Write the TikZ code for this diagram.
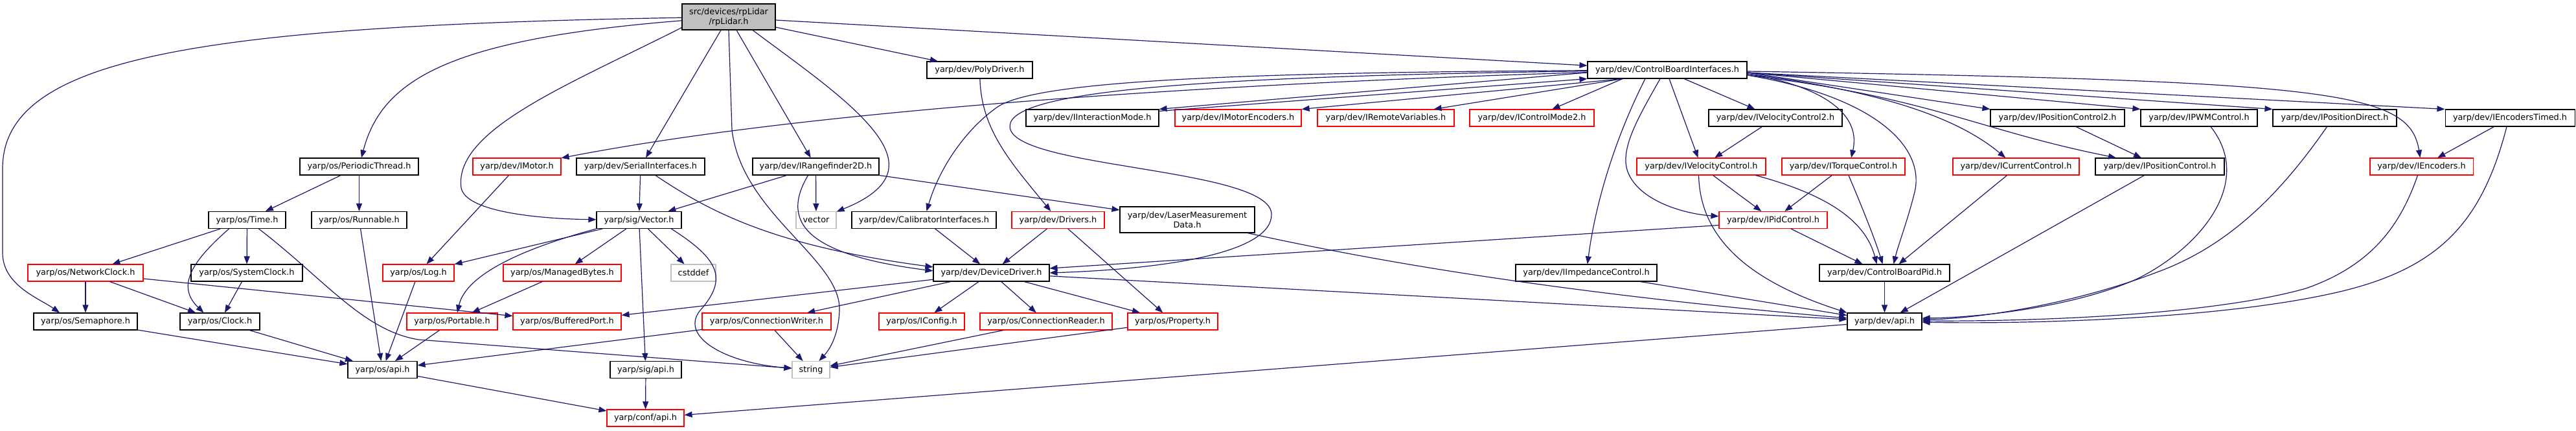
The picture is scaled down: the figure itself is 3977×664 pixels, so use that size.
\documentclass[tikz,border=0pt]{standalone}
\usepackage{fontspec}
\setmainfont{DejaVu Sans}
\usetikzlibrary{arrows.meta}
\definecolor{edgeblue}{HTML}{191970}
\definecolor{greyseventyfive}{HTML}{BFBFBF}
\begin{document}
\begin{tikzpicture}[x=1pt,y=-1pt,
  box/.style={draw=black, fill=white, line width=1.1pt, minimum height=26pt, inner sep=1pt,
    font=\fontsize{12.85}{15}\selectfont, text=black, align=center},
  redbox/.style={box, draw=red},
  sysbox/.style={box, draw=greyseventyfive},
  rootbox/.style={box, fill=greyseventyfive, minimum height=40pt},
  dep/.style={draw=edgeblue, line width=1.2pt, -{Triangle[length=12pt,width=9pt]}}]
\useasboundingbox (0,0) rectangle (3977,664);
% rank 0
\node[rootbox, minimum width=144pt] (rp) at (1125,26) {src/devices/rpLidar\\/rpLidar.h};
% rank 1
\node[box, minimum width=163pt] (poly) at (1512.5,108) {yarp/dev/PolyDriver.h};
\node[box, minimum width=246pt] (cbi) at (2574,108) {yarp/dev/ControlBoardInterfaces.h};
% rank 2
\node[box, minimum width=205pt] (iim) at (1686.5,182) {yarp/dev/IInteractionMode.h};
\node[redbox, minimum width=195pt] (imenc) at (1911.5,182) {yarp/dev/IMotorEncoders.h};
\node[redbox, minimum width=211pt] (irv) at (2139.5,182) {yarp/dev/IRemoteVariables.h};
\node[redbox, minimum width=192pt] (icm) at (2365,182) {yarp/dev/IControlMode2.h};
\node[box, minimum width=206pt] (ivc2) at (2741,182) {yarp/dev/IVelocityControl2.h};
\node[box, minimum width=207pt] (ipc2) at (3176.5,182) {yarp/dev/IPositionControl2.h};
\node[box, minimum width=180pt] (ipwm) at (3395,182) {yarp/dev/IPWMControl.h};
\node[box, minimum width=191pt] (ipd) at (3604.5,182) {yarp/dev/IPositionDirect.h};
\node[box, minimum width=200pt] (ienct) at (3875,182) {yarp/dev/IEncodersTimed.h};
% rank 3
\node[box, minimum width=183pt] (pth) at (554.5,257) {yarp/os/PeriodicThread.h};
\node[redbox, minimum width=136pt] (imot) at (798,257) {yarp/dev/IMotor.h};
\node[box, minimum width=198pt] (ser) at (989,257) {yarp/dev/SerialInterfaces.h};
\node[box, minimum width=195pt] (irf) at (1259.5,257) {yarp/dev/IRangefinder2D.h};
\node[redbox, minimum width=199pt] (ivc) at (2626.5,257) {yarp/dev/IVelocityControl.h};
\node[redbox, minimum width=190pt] (itq) at (2846,257) {yarp/dev/ITorqueControl.h};
\node[redbox, minimum width=195pt] (icc) at (3112.5,257) {yarp/dev/ICurrentControl.h};
\node[box, minimum width=199pt] (ipc) at (3334.5,257) {yarp/dev/IPositionControl.h};
\node[redbox, minimum width=159pt] (ienc) at (3738.5,257) {yarp/dev/IEncoders.h};
% rank 4
\node[box, minimum width=119pt] (time) at (381.5,339.5) {yarp/os/Time.h};
\node[box, minimum width=147pt] (run) at (554.5,339.5) {yarp/os/Runnable.h};
\node[box, minimum width=131pt] (vec) at (986.5,339.5) {yarp/sig/Vector.h};
\node[sysbox, minimum width=62pt] (stdvec) at (1260,339.5) {vector};
\node[box, minimum width=223pt] (cal) at (1426.5,339.5) {yarp/dev/CalibratorInterfaces.h};
\node[redbox, minimum width=143pt] (drv) at (1633.5,339.5) {yarp/dev/Drivers.h};
\node[box, minimum width=208pt, minimum height=40pt] (laser) at (1833,339) {yarp/dev/LaserMeasurement\\Data.h};
\node[redbox, minimum width=167pt] (ipid) at (2737.5,339.5) {yarp/dev/IPidControl.h};
% rank 5
\node[redbox, minimum width=178pt] (nclk) at (132,421) {yarp/os/NetworkClock.h};
\node[box, minimum width=172pt] (sclk) at (381,421) {yarp/os/SystemClock.h};
\node[redbox, minimum width=110pt] (log) at (646,421) {yarp/os/Log.h};
\node[redbox, minimum width=182pt] (mb) at (868,421) {yarp/os/ManagedBytes.h};
\node[sysbox, minimum width=69pt] (cstd) at (1070.5,421) {cstddef};
\node[box, minimum width=179pt] (dd) at (1530.5,421) {yarp/dev/DeviceDriver.h};
\node[box, minimum width=218pt] (imp) at (2449,421) {yarp/dev/IImpedanceControl.h};
\node[box, minimum width=201pt] (cbpid) at (2909.5,421) {yarp/dev/ControlBoardPid.h};
% rank 6
\node[box, minimum width=160pt] (sem) at (132,496) {yarp/os/Semaphore.h};
\node[box, minimum width=123pt] (clk) at (339.5,496) {yarp/os/Clock.h};
\node[redbox, minimum width=140pt] (port) at (698,496) {yarp/os/Portable.h};
\node[redbox, minimum width=167pt] (bp) at (875.5,496) {yarp/os/BufferedPort.h};
\node[redbox, minimum width=199pt] (cw) at (1183.5,496) {yarp/os/ConnectionWriter.h};
\node[redbox, minimum width=132pt] (icfg) at (1423,496) {yarp/os/IConfig.h};
\node[redbox, minimum width=204pt] (cr) at (1615,496) {yarp/os/ConnectionReader.h};
\node[redbox, minimum width=139pt] (prop) at (1810.5,496) {yarp/os/Property.h};
\node[box, minimum width=115pt] (devapi) at (2909.5,496) {yarp/dev/api.h};
% rank 7
\node[box, minimum width=107pt] (osapi) at (590.5,570.5) {yarp/os/api.h};
\node[box, minimum width=110pt] (sigapi) at (997,570.5) {yarp/sig/api.h};
\node[sysbox, minimum width=58pt] (str) at (1252,570.5) {string};
% rank 8
\node[redbox, minimum width=119pt] (conf) at (996.5,645) {yarp/conf/api.h};

% ---- edges from rpLidar
\draw[dep] (rp) .. controls (300,40) and (4,90) .. (4,260) -- (4,390) .. controls (4,440) and (60,460) .. ([xshift=-40pt]sem.north);
\draw[dep] (rp) .. controls (700,60) and (590,120) .. (pth);
\draw[dep] ([yshift=4pt]rp.south west) .. controls (880,130) and (700,200) .. (712,290) .. controls (720,330) and (850,338) .. (vec);
\draw[dep] ([xshift=-12pt]rp.south) -- (ser);
\draw[dep] (rp.south) -- (1130,200) .. controls (1145,330) and (1300,400) .. (1296,480) .. controls (1294,520) and (1280,540) .. (str);
\draw[dep] ([xshift=12pt]rp.south) -- (irf);
\draw[dep] ([xshift=37pt]rp.south) .. controls (1260,120) and (1380,200) .. (1372,260) .. controls (1368,295) and (1320,315) .. (stdvec);
\draw[dep] ([yshift=-16pt]rp.east) -- (poly);
\draw[dep] ([yshift=-5pt]rp.east) -- (cbi);
% ---- left part
\draw[dep] (poly) .. controls (1515,200) and (1560,250) .. (drv);
\draw[dep] (irf) -- (vec);
\draw[dep] (irf) -- (stdvec);
\draw[dep] ([xshift=-12pt]irf.south) .. controls (1200,350) and (1260,395) .. ([yshift=3pt]dd.west);
\draw[dep] (irf.south east) -- (laser);
\draw[dep] (ser) -- (vec);
\draw[dep] ([xshift=23pt]ser.south) .. controls (1100,330) and (1200,380) .. ([yshift=9pt]dd.west);
\draw[dep] (imot) -- (log);
\draw[dep] (pth) -- (time);
\draw[dep] (pth) -- (run);
\draw[dep] (time) -- (nclk);
\draw[dep] ([xshift=-28pt]time.south) .. controls (300,400) and (270,440) .. ([xshift=-25pt]clk.north);
\draw[dep] (time) -- (sclk);
\draw[dep] ([xshift=18pt]time.south) .. controls (500,430) and (560,510) .. (646,524) -- (str);
\draw[dep] (nclk) -- (sem);
\draw[dep] (nclk) -- (clk);
\draw[dep] (nclk) -- (bp);
\draw[dep] (sclk) -- (clk);
\draw[dep] (sem) -- (osapi);
\draw[dep] (clk) -- (osapi);
\draw[dep] (run) -- (osapi);
\draw[dep] (log) -- (osapi);
\draw[dep] (port) -- (osapi);
\draw[dep] (cw) -- (osapi);
\draw[dep] (cw) -- (str);
\draw[dep] (osapi) -- (conf);
\draw[dep] (sigapi) -- (conf);
\draw[dep] (vec) -- (log);
\draw[dep] (vec.south west) .. controls (820,380) and (720,420) .. ([xshift=8pt]port.north);
\draw[dep] (vec) -- (mb);
\draw[dep] (vec) -- (cstd);
\draw[dep] (vec) -- (sigapi);
\draw[dep] ([xshift=50pt]vec.south) .. controls (1110,400) and (1125,430) .. (1080,480) .. controls (1050,520) and (1120,560) .. (str);
\draw[dep] (mb) -- (port);
% ---- DeviceDriver
\draw[dep] (dd) -- (bp);
\draw[dep] (dd) -- (cw);
\draw[dep] (dd) -- (icfg);
\draw[dep] (dd) -- (cr);
\draw[dep] (dd) -- (prop);
\draw[dep] (dd) -- (devapi);
\draw[dep] (drv) -- (dd);
\draw[dep] (drv) -- (prop);
\draw[dep] (cal) -- (dd);
\draw[dep] (cr) -- (str);
\draw[dep] (prop) -- (str);
\draw[dep] (laser) .. controls (2200,420) and (2500,460) .. (devapi);
\draw[dep] (imp) -- (devapi);
\draw[dep] (devapi) -- (conf);
% ---- ControlBoardInterfaces
\draw[dep] (cbi) .. controls (2000,125) and (1300,160) .. (imot);
\draw[dep] (cbi) .. controls (1900,112) and (1600,125) .. (1540,165) .. controls (1490,200) and (1450,260) .. (cal);
\draw[dep] (cbi) .. controls (1850,118) and (1540,140) .. (1560,200) .. controls (1580,260) and (1960,260) .. (1963,330) .. controls (1965,390) and (1800,415) .. (dd.east);
\draw[dep] ([yshift=-4pt]cbi.west) -- (iim.north east);
\draw[dep] ([yshift=-3pt]iim.north east) -- (cbi.south west);
\draw[dep] ([xshift=-69pt]cbi.south) -- (imenc.north east);
\draw[dep] ([xshift=-69pt]cbi.south) -- ([xshift=-32pt]irv.north east);
\draw[dep] ([xshift=-69pt]cbi.south) -- (icm);
\draw[dep] ([xshift=26pt]cbi.south) -- (ivc2);
\draw[dep] ([xshift=3pt]cbi.south) -- (ivc);
\draw[dep] ([xshift=-34pt]cbi.south) .. controls (2500,200) and (2465,300) .. (imp);
\draw[dep] ([xshift=-11pt]cbi.south) .. controls (2530,180) and (2500,230) .. (2513,265) .. controls (2530,310) and (2600,330) .. (ipid);
\draw[dep] ([yshift=-4pt]cbi.east) -- (ipc2.north west);
\draw[dep] ([yshift=-4pt]cbi.east) -- (ipwm.north west);
\draw[dep] ([yshift=-4pt]cbi.east) -- (ipd.north west);
\draw[dep] ([yshift=-4pt]cbi.east) -- (ienct.north west);
\draw[dep] ([yshift=-2pt]cbi.east) .. controls (3600,125) and (3720,140) .. (ienc);
\draw[dep] ([yshift=-8pt]cbi.east) .. controls (2980,150) and (3050,200) .. (ipc);
\draw[dep] ([yshift=-6pt]cbi.east) .. controls (2900,140) and (3020,180) .. (icc);
\draw[dep] ([yshift=-6pt]cbi.east) .. controls (2800,130) and (2875,170) .. ([xshift=12pt]itq.north);
\draw[dep] ([yshift=-8pt]cbi.east) .. controls (2900,150) and (2975,230) .. (2955,300) .. controls (2945,340) and (2930,380) .. ([xshift=14pt]cbpid.north);
% ---- right part
\draw[dep] (ivc2) -- (ivc);
\draw[dep] (ivc) -- (ipid);
\draw[dep] (itq) -- (ipid);
\draw[dep] ([xshift=84pt]ivc.south) .. controls (2820,300) and (2880,340) .. ([xshift=-12pt]cbpid.north);
\draw[dep] ([xshift=8pt]itq.south) .. controls (2875,320) and (2895,370) .. ([xshift=-3pt]cbpid.north);
\draw[dep] ([xshift=-14pt]icc.south) -- ([xshift=22pt]cbpid.north);
\draw[dep] (ipid) -- ([xshift=-34pt]cbpid.north);
\draw[dep] ([yshift=-8pt]ipid.west) -- ([yshift=7pt]dd.east);
\draw[dep] (cbpid) -- (devapi);
\draw[dep] ([xshift=-4pt]ivc.south) .. controls (2625,380) and (2720,440) .. (devapi.north west);
\draw[dep] (ipc) -- (devapi);
\draw[dep] (ipc2) -- (ipc);
\draw[dep] ([xshift=18pt]ipwm.south) .. controls (3480,280) and (3400,380) .. (3300,430) .. controls (3200,475) and (3050,490) .. ([yshift=5pt]devapi.east);
\draw[dep] ([xshift=-12pt]ipd.south) .. controls (3520,300) and (3440,380) .. (3330,420) .. controls (3200,470) and (3050,492) .. ([yshift=3pt]devapi.east);
\draw[dep] ([xshift=-6pt]ienc.south) .. controls (3705,350) and (3660,410) .. (3560,445) .. controls (3400,490) and (3100,496) .. ([yshift=1pt]devapi.east);
\draw[dep] ([xshift=-5pt]ienct.south) .. controls (3830,350) and (3760,420) .. (3590,455) .. controls (3400,495) and (3100,500) .. ([yshift=-1pt]devapi.east);
\draw[dep] (ienct) -- (ienc);
\end{tikzpicture}
\end{document}
